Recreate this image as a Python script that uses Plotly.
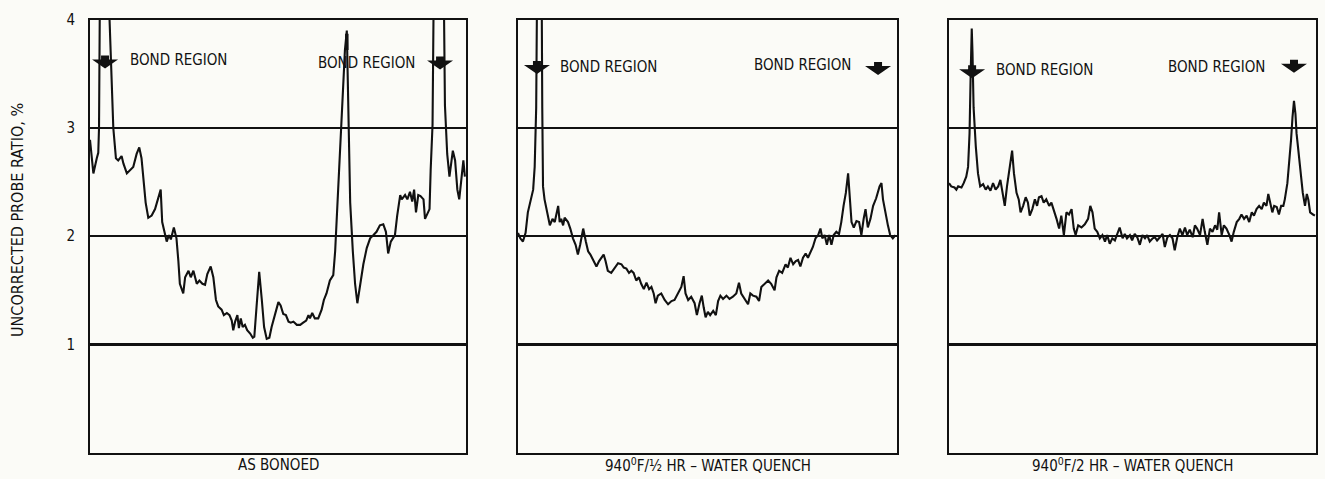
import plotly.graph_objects as go

# ---------------- data (position along traverse, % ; probe ratio, %) ----------------
p1_x = [0, 0.4, 0.9, 1.8, 2.2, 2.4, 2.7, 4.6, 6.2, 6.9, 7.5, 8.4, 8.9, 9.8, 10.6, 11.5,
        12.4, 13.1, 13.7, 14.4, 14.8, 15.5, 16.4, 17.3, 18.2, 18.8, 19.2, 19.7, 20.4,
        21.0, 21.5, 22.3, 23.0, 23.5, 23.9, 24.8, 25.3, 26.2, 26.8, 27.5, 28.4, 29.1,
        29.9, 30.6, 31.2, 32.1, 32.8, 33.5, 34.1, 35.0, 35.6, 36.4, 37.1, 37.7, 38.1,
        38.6, 39.2, 39.6, 40.1, 40.6, 41.2, 41.8, 42.6, 43.3, 43.7, 44.3, 45.0, 45.7,
        46.3, 47.0, 47.7, 48.3, 49.2, 50.1, 50.7, 51.4, 52.1, 52.8, 53.4, 54.1, 55.0,
        55.9, 56.7, 57.5, 58.1, 58.5, 59.1, 59.8, 60.7, 61.6, 62.2, 62.9, 63.8, 64.7,
        65.2, 65.8, 66.5, 67.2, 67.8, 68.3, 68.7, 69.2, 69.9, 70.5, 71.1, 71.8, 72.7,
        73.6, 74.5, 75.4, 76.2, 77.1, 78.0, 78.7, 79.3, 80.0, 81.1, 81.7, 82.5, 82.9,
        83.8, 84.4, 85.1, 85.7, 86.2, 86.7, 87.3, 87.9, 88.7, 89.1, 89.5, 90.3, 90.6,
        91.1, 91.5, 94.0, 94.4, 95.0, 95.6, 95.9, 96.5, 97.1, 97.7, 98.2, 98.9, 99.3, 99.7]
p1_y = [2.89, 2.77, 2.58, 2.72, 2.77, 3.00, 4.60, 4.60, 3.00, 2.72, 2.70, 2.74, 2.67,
        2.58, 2.61, 2.64, 2.76, 2.82, 2.72, 2.49, 2.31, 2.17, 2.19, 2.25, 2.37, 2.43,
        2.13, 2.04, 1.95, 2.01, 1.97, 2.08, 1.98, 1.77, 1.56, 1.47, 1.62, 1.68, 1.62,
        1.68, 1.56, 1.59, 1.56, 1.55, 1.65, 1.72, 1.62, 1.41, 1.35, 1.32, 1.27, 1.29,
        1.27, 1.22, 1.13, 1.21, 1.27, 1.15, 1.24, 1.16, 1.18, 1.13, 1.10, 1.06, 1.07,
        1.35, 1.67, 1.41, 1.16, 1.05, 1.06, 1.16, 1.28, 1.39, 1.36, 1.28, 1.27, 1.21,
        1.20, 1.21, 1.18, 1.18, 1.20, 1.22, 1.27, 1.24, 1.29, 1.24, 1.24, 1.32, 1.41,
        1.47, 1.59, 1.64, 1.86, 2.31, 2.70, 3.21, 3.72, 3.90, 3.21, 2.31, 1.86, 1.56,
        1.38, 1.53, 1.74, 1.89, 1.98, 2.01, 2.04, 2.10, 2.11, 2.04, 1.84, 1.95, 2.01,
        2.19, 2.38, 2.34, 2.38, 2.34, 2.41, 2.32, 2.43, 2.22, 2.38, 2.37, 2.34, 2.16,
        2.19, 2.25, 2.61, 3.03, 4.60, 4.60, 3.21, 2.76, 2.55, 2.64, 2.79, 2.70, 2.43,
        2.34, 2.55, 2.70, 2.55]
p1_mark_x = [68.3, 68.3]
p1_mark_y = [3.72, 3.87]

p2_x = [0, 0.6, 1.3, 2.0, 2.6, 3.5, 4.0, 4.4, 4.8, 5.1, 6.2, 6.4, 6.6, 7.0, 7.5, 8.4,
        9.1, 9.7, 10.6, 11.0, 11.4, 11.9, 12.3, 13.2, 13.8, 14.5, 15.2, 15.8, 16.4,
        17.2, 17.9, 18.5, 19.1, 20.0, 20.7, 21.4, 22.0, 22.6, 23.1, 23.7, 24.6, 25.5,
        26.4, 27.3, 27.9, 28.6, 29.3, 29.9, 30.5, 31.2, 31.9, 32.5, 33.2, 33.9, 34.6,
        35.2, 35.8, 36.3, 36.9, 37.8, 38.7, 39.6, 40.5, 41.3, 42.2, 43.1, 43.7, 44.2,
        44.9, 45.7, 46.6, 47.2, 47.9, 48.5, 49.0, 49.5, 50.1, 50.7, 51.5, 52.2, 52.8,
        53.4, 54.1, 55.0, 55.8, 56.7, 57.6, 58.3, 58.9, 59.8, 60.7, 61.3, 62.0, 62.9,
        63.6, 64.2, 65.1, 66.0, 66.8, 67.7, 68.2, 68.9, 69.7, 70.6, 71.2, 71.9, 72.6,
        73.3, 73.9, 74.5, 75.2, 75.9, 76.5, 77.1, 77.8, 78.5, 79.2, 79.8, 80.3, 80.9,
        81.5, 82.1, 82.7, 83.3, 84.0, 84.7, 85.3, 85.9, 86.5, 87.1, 87.5, 88.0, 88.6,
        89.3, 90.0, 90.6, 91.2, 91.7, 92.3, 93.0, 93.7, 94.5, 95.4, 95.9, 96.3, 97.0,
        97.6, 98.2, 98.9, 99.6]
p2_y = [2.03, 1.98, 1.95, 2.03, 2.22, 2.34, 2.43, 2.64, 3.19, 4.60, 4.60, 3.19, 2.46,
        2.34, 2.25, 2.10, 2.16, 2.13, 2.28, 2.13, 2.16, 2.10, 2.17, 2.13, 2.07, 1.98,
        1.92, 1.83, 1.92, 2.07, 1.95, 1.86, 1.83, 1.77, 1.72, 1.77, 1.80, 1.83, 1.77,
        1.68, 1.66, 1.71, 1.75, 1.74, 1.71, 1.70, 1.66, 1.68, 1.66, 1.59, 1.62, 1.56,
        1.51, 1.57, 1.51, 1.53, 1.47, 1.38, 1.45, 1.47, 1.41, 1.37, 1.40, 1.41, 1.47,
        1.53, 1.63, 1.47, 1.41, 1.44, 1.38, 1.27, 1.38, 1.45, 1.34, 1.25, 1.30, 1.27,
        1.31, 1.27, 1.40, 1.45, 1.42, 1.45, 1.42, 1.44, 1.47, 1.57, 1.47, 1.42, 1.37,
        1.47, 1.45, 1.44, 1.40, 1.53, 1.56, 1.59, 1.56, 1.50, 1.62, 1.68, 1.66, 1.74,
        1.71, 1.80, 1.74, 1.77, 1.78, 1.72, 1.80, 1.84, 1.80, 1.84, 1.90, 1.98, 2.01,
        2.07, 1.98, 2.01, 1.92, 2.01, 1.92, 2.01, 2.04, 2.02, 2.13, 2.28, 2.40, 2.58,
        2.40, 2.13, 2.08, 2.14, 2.13, 2.01, 2.16, 2.25, 2.08, 2.16, 2.28, 2.35, 2.46,
        2.49, 2.34, 2.19, 2.10, 2.01, 1.98, 2.01]

p3_x = [0, 0.6, 1.5, 2.0, 2.5, 3.4, 4.0, 4.7, 5.2, 5.6, 5.9, 6.2, 6.4, 6.7, 7.3, 7.9,
        8.5, 9.3, 10.0, 10.6, 11.3, 12.0, 12.7, 13.4, 14.0, 14.5, 15.2, 15.8, 16.5,
        17.2, 17.7, 18.4, 19.0, 19.5, 20.2, 20.9, 21.5, 22.0, 22.7, 23.4, 24.0, 24.5,
        25.2, 25.8, 26.5, 27.3, 27.9, 28.5, 29.3, 30.0, 30.6, 31.3, 32.0, 32.7, 33.4,
        34.0, 34.5, 35.2, 36.1, 37.0, 37.9, 38.5, 39.1, 39.7, 40.4, 41.1, 41.8, 42.5,
        43.1, 43.8, 44.5, 45.2, 45.8, 46.5, 47.3, 47.9, 48.5, 49.3, 49.9, 50.6, 51.3,
        52.0, 52.7, 53.4, 54.0, 54.7, 55.5, 56.1, 56.7, 57.5, 58.2, 58.8, 59.5, 60.2,
        60.9, 61.5, 62.2, 62.9, 63.6, 64.3, 64.9, 65.6, 66.4, 67.0, 67.6, 68.4, 69.1,
        69.7, 70.4, 71.1, 71.8, 72.5, 73.1, 73.6, 74.3, 74.9, 75.6, 76.4, 77.0, 77.6,
        78.4, 79.1, 79.7, 80.4, 81.1, 81.8, 82.5, 83.1, 83.8, 84.5, 85.2, 85.8, 86.5,
        87.0, 87.5, 88.1, 88.6, 89.3, 89.9, 90.5, 91.1, 91.5, 92.2, 92.7, 93.2, 93.6,
        94.0, 94.4, 94.7, 95.2, 95.6, 96.4, 97.0, 97.5, 97.9, 98.4, 99.2, 99.7]
p3_y = [2.49, 2.46, 2.45, 2.43, 2.46, 2.45, 2.49, 2.55, 2.64, 2.95, 3.49, 3.92, 3.70,
        3.19, 2.83, 2.58, 2.46, 2.48, 2.43, 2.46, 2.42, 2.49, 2.43, 2.46, 2.52, 2.40,
        2.28, 2.46, 2.64, 2.79, 2.58, 2.40, 2.34, 2.22, 2.28, 2.36, 2.31, 2.19, 2.25,
        2.34, 2.28, 2.36, 2.37, 2.31, 2.34, 2.28, 2.31, 2.25, 2.16, 2.07, 2.19, 2.01,
        2.22, 2.20, 2.25, 2.07, 2.01, 2.10, 2.08, 2.11, 2.16, 2.28, 2.22, 2.07, 2.04,
        1.98, 2.01, 1.95, 2.01, 1.93, 1.98, 1.96, 2.01, 2.08, 1.98, 2.02, 1.98, 2.01,
        1.96, 2.02, 1.99, 1.92, 2.01, 1.98, 2.01, 1.95, 1.98, 1.99, 1.96, 1.99, 2.02,
        1.90, 1.99, 2.01, 1.98, 1.87, 1.99, 2.07, 2.01, 2.08, 2.01, 2.06, 1.99, 2.10,
        2.07, 2.01, 2.16, 2.04, 1.92, 2.07, 2.04, 2.10, 2.06, 2.22, 2.01, 2.10, 2.07,
        2.01, 1.95, 2.04, 2.13, 2.16, 2.20, 2.16, 2.19, 2.13, 2.22, 2.19, 2.25, 2.28,
        2.25, 2.31, 2.28, 2.39, 2.31, 2.22, 2.28, 2.27, 2.20, 2.28, 2.28, 2.34, 2.49,
        2.67, 2.89, 3.10, 3.25, 3.13, 2.95, 2.79, 2.64, 2.40, 2.28, 2.39, 2.34, 2.22,
        2.20, 2.19]

panel_titles = ["AS BONOED", "940<sup>0</sup>F/½ HR – WATER QUENCH",
                "940<sup>0</sup>F/2 HR – WATER QUENCH"]
y_ticks = [1, 2, 3, 4]
y_ticktext = ["1", "2", "3", "4"]
y_title = "UNCORRECTED PROBE RATIO, %"
label_text = "BOND REGION"

# bond-region arrow tips (x, y) and label anchors (x, y) per panel
arrow_tips = [[(4.0, 3.55), (93.1, 3.54)],
              [(5.0, 3.50), (95.0, 3.49)],
              [(6.3, 3.46), (94.0, 3.51)]]
label_left = [(10.1, 3.63), (10.6, 3.56), (12.3, 3.54)]
label_right = [(87.0, 3.60), (88.4, 3.58), (86.6, 3.56)]

# ---------------- figure ----------------
FONT = "Liberation Sans Narrow, DejaVu Sans Condensed, Arial Narrow, sans-serif"
BG = "#fbfbf7"
INK = "#111111"

x_domains = [[90 / 1325, 466 / 1325], [518 / 1325, 897 / 1325], [949 / 1325, 1316 / 1325]]
y_domain = [1 - 452 / 479, 1 - 11 / 479]

series = [(p1_x, p1_y), (p2_x, p2_y), (p3_x, p3_y)]

fig = go.Figure()
for i, (xs, ys) in enumerate(series):
    sfx = "" if i == 0 else str(i + 1)
    fig.add_trace(go.Scatter(x=xs, y=ys, mode="lines", xaxis="x" + sfx, yaxis="y" + sfx,
                             line=dict(color=INK, width=2.1), showlegend=False,
                             hoverinfo="skip"))
fig.add_trace(go.Scatter(x=p1_mark_x, y=p1_mark_y, mode="lines", xaxis="x", yaxis="y",
                         line=dict(color=INK, width=3.5), showlegend=False, hoverinfo="skip"))

layout = dict(
    width=1325, height=479,
    margin=dict(l=0, r=0, t=0, b=0),
    paper_bgcolor=BG, plot_bgcolor=BG,
    font=dict(family=FONT, color=INK, size=14),
    showlegend=False,
)
for i in range(3):
    sfx = "" if i == 0 else str(i + 1)
    layout["xaxis" + sfx] = dict(domain=x_domains[i], range=[0, 100], showgrid=False,
                                 zeroline=False, showticklabels=False, ticks="",
                                 showline=True, mirror=True, linecolor=INK, linewidth=2,
                                 anchor="y" + sfx, fixedrange=True)
    layout["yaxis" + sfx] = dict(domain=y_domain, range=[0, 4], tickvals=y_ticks,
                                 ticktext=y_ticktext, showticklabels=(i == 0),
                                 showgrid=True, gridcolor=INK, gridwidth=2.5,
                                 zeroline=False, showline=True, mirror=True,
                                 linecolor=INK, linewidth=2, ticks="",
                                 anchor="x" + sfx, tickfont=dict(size=15),
                                 ticklabelstandoff=10, fixedrange=True)
fig.update_layout(**layout)

# arrow glyph in pixels relative to its tip (y positive = up)
ARROW_PATH = "M0,0 L-13,9 L-4,9 L-4,13 L4,13 L4,9 L13,9 Z"
shapes = []
annotations = []
for i in range(3):
    sfx = "" if i == 0 else str(i + 1)
    annotations.append(dict(text=panel_titles[i], xref="x" + sfx + " domain", x=0.5,
                            yref="paper", y=1 - 465 / 479, yanchor="middle",
                            showarrow=False, font=dict(size=15)))
    for (ax_, ay_) in arrow_tips[i]:
        shapes.append(dict(type="path", xref="x" + sfx, yref="y" + sfx,
                           xsizemode="pixel", ysizemode="pixel", xanchor=ax_, yanchor=ay_,
                           path=ARROW_PATH, fillcolor=INK, line=dict(width=0)))
    lx, ly = label_left[i]
    annotations.append(dict(text=label_text, xref="x" + sfx, yref="y" + sfx, x=lx, y=ly,
                            xanchor="left", yanchor="middle", showarrow=False,
                            font=dict(size=15)))
    rx, ry = label_right[i]
    annotations.append(dict(text=label_text, xref="x" + sfx, yref="y" + sfx, x=rx, y=ry,
                            xanchor="right", yanchor="middle", showarrow=False,
                            font=dict(size=15)))
annotations.append(dict(text=y_title, xref="paper", yref="paper", x=18 / 1325,
                        y=1 - 215 / 479, textangle=-90, showarrow=False,
                        xanchor="center", yanchor="middle", font=dict(size=16)))
fig.update_layout(annotations=annotations, shapes=shapes)

fig.write_html("out.html",
               config={"displayModeBar": False, "staticPlot": True},
               post_script="document.body.style.margin='0';"
                           "document.body.style.overflow='hidden';")
